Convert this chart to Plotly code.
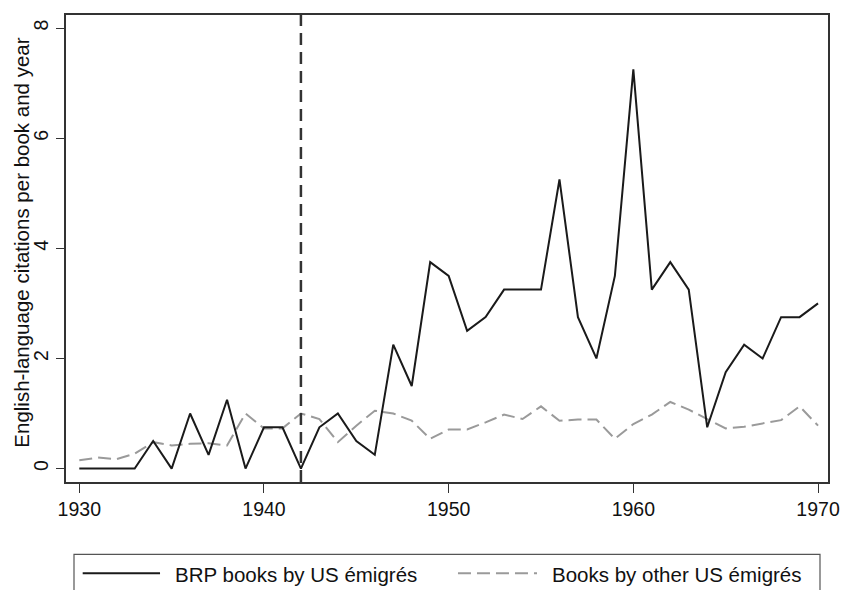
import plotly.graph_objects as go

years = list(range(1930, 1971))
brp = [0, 0, 0, 0, 0.5, 0, 1.0, 0.25, 1.25, 0, 0.75,
       0.75, 0, 0.75, 1.0, 0.5, 0.25, 2.25, 1.5, 3.75, 3.5,
       2.5, 2.75, 3.25, 3.25, 3.25, 5.25, 2.75, 2.0, 3.5, 7.25,
       3.25, 3.75, 3.25, 0.75, 1.75, 2.25, 2.0, 2.75, 2.75, 3.0]
other = [0.15, 0.2, 0.17, 0.27, 0.48, 0.42, 0.45, 0.46, 0.42, 1.0, 0.73,
         0.73, 1.0, 0.9, 0.48, 0.78, 1.05, 1.0, 0.87, 0.54, 0.71,
         0.71, 0.84, 0.98, 0.9, 1.13, 0.87, 0.89, 0.89, 0.54, 0.81,
         0.98, 1.21, 1.07, 0.9, 0.73, 0.76, 0.82, 0.88, 1.13, 0.78]
x_ticks = [1930, 1940, 1950, 1960, 1970]
y_ticks = [0, 2, 4, 6, 8]
cutoff_year = 1942
series_names = ["BRP books by US émigrés", "Books by other US émigrés"]
y_title = "English-language citations per book and year"

FONT = "Liberation Sans, Arial, Helvetica, sans-serif"

fig = go.Figure()
fig.add_trace(go.Scatter(x=years, y=other, mode="lines", name=series_names[1],
                         line=dict(color="#9a9a9a", width=2, dash="13px,6px"),
                         showlegend=False))
fig.add_trace(go.Scatter(x=years, y=brp, mode="lines", name=series_names[0],
                         line=dict(color="#1a1a1a", width=2),
                         showlegend=False))

# vertical reference line
fig.add_shape(type="line", xref="x", yref="paper", x0=cutoff_year, x1=cutoff_year,
              y0=0, y1=1, line=dict(color="#333333", width=2.5, dash="12px,7px"))

# legend box and samples (manual, Stata style)
fig.add_shape(type="rect", xref="paper", yref="paper", x0=0.0105, x1=0.9895,
              y0=-0.32, y1=-0.155, line=dict(color="#555555", width=1.2),
              fillcolor="rgba(0,0,0,0)")
fig.add_shape(type="line", xref="paper", yref="paper", x0=0.0219, x1=0.1234,
              y0=-0.1956, y1=-0.1956, line=dict(color="#1a1a1a", width=2))
fig.add_shape(type="line", xref="paper", yref="paper", x0=0.5144, x1=0.6181,
              y0=-0.1956, y1=-0.1956, line=dict(color="#9a9a9a", width=2, dash="13px,6px"))
fig.add_annotation(text=series_names[0], xref="paper", yref="paper", x=0.1404,
                   y=-0.1988, xanchor="left", yanchor="middle", showarrow=False,
                   font=dict(family=FONT, size=20.5, color="#111111"))
fig.add_annotation(text=series_names[1], xref="paper", yref="paper", x=0.6352,
                   y=-0.1988, xanchor="left", yanchor="middle", showarrow=False,
                   font=dict(family=FONT, size=20.5, color="#111111"))

# y axis title
fig.add_annotation(text=y_title, xref="paper", yref="paper", x=-0.0577, y=0.5125,
                   textangle=-90, xanchor="center", yanchor="middle", showarrow=False,
                   font=dict(family=FONT, size=20.5, color="#111111"))

fig.update_xaxes(range=[1929.28, 1970.54], tickvals=x_ticks, ticks="outside",
                 ticklen=9, tickwidth=1.3, tickcolor="#333333",
                 showline=True, linecolor="#333333", linewidth=1.5, mirror=True,
                 showgrid=False, zeroline=False,
                 tickfont=dict(family=FONT, size=19.5, color="#111111"))
fig.update_yaxes(range=[-0.2435, 8.237], tickvals=y_ticks, ticks="outside",
                 ticklen=8, tickwidth=1.3, tickcolor="#333333", tickangle=-90,
                 showline=True, linecolor="#333333", linewidth=1.5, mirror=True,
                 showgrid=False, zeroline=False,
                 tickfont=dict(family=FONT, size=19.5, color="#111111"))

fig.update_layout(width=843, height=590, plot_bgcolor="white", paper_bgcolor="white",
                  margin=dict(l=66, r=15, t=15, b=108, autoexpand=False),
                  showlegend=False, font=dict(family=FONT))

fig.write_html("out.html", config={"displayModeBar": False},
               post_script="document.body.style.margin='0';document.body.style.overflow='hidden';")
